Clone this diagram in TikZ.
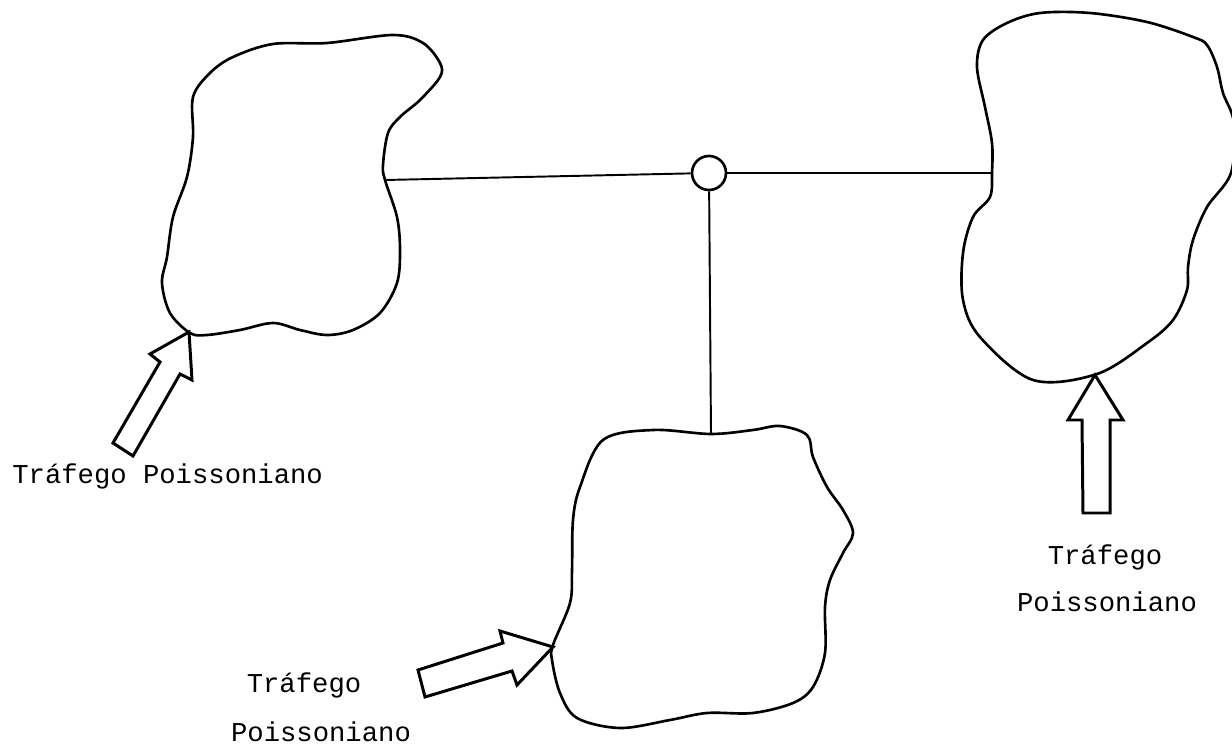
\documentclass[tikz,border=0pt]{standalone}
\usepackage{fontspec}
\setmonofont{Liberation Mono}
\begin{document}
\begin{tikzpicture}[x=0.02cm,y=-0.02cm,
  blob/.style={line width=1.5pt,line join=round},
  wire/.style={line width=1.1pt},
  fatarrow/.style={line width=1.7pt,line join=miter,fill=white},
  lbl/.style={font=\ttfamily\fontsize{15.5}{18}\selectfont,anchor=base,inner sep=0pt}]
\useasboundingbox (0,0) rectangle (1232,746);
% junction coordinates
\coordinate (j1) at (385,180);
\coordinate (j2) at (992,173);
\coordinate (j3) at (711,434);
% blobs
\draw[blob] plot[smooth cycle,tension=0.55] coordinates {(273,44) (327,43) (393,35) (423,43) (440,63) (440,77) (420,100) (400,117) (388,133) (383,165) (385,180) (397,217) (400,250) (397,283) (380,313) (353,330) (327,335) (300,330) (273,323) (240,330) (207,335) (190,333) (170,313) (162,283) (167,257) (173,217) (187,177) (193,137) (193,97) (210,73) (233,57)};
\draw[blob] plot[smooth cycle,tension=0.55] coordinates {(1040,13) (1090,13) (1147,22) (1193,37) (1207,45) (1217,67) (1223,93) (1234,123) (1231,173) (1207,207) (1193,240) (1188,267) (1187,290) (1173,320) (1147,343) (1097,374) (1033,380) (980,337) (963,300) (963,253) (973,217) (990,197) (992,173) (992,143) (985,107) (977,67) (983,40) (1007,23)};
\draw[blob] plot[smooth cycle,tension=0.55] coordinates {(603,440) (653,430) (711,434) (753,430) (780,426) (807,435) (813,457) (827,487) (843,510) (853,533) (843,553) (830,580) (825,607) (825,653) (813,687) (793,703) (753,713) (707,713) (670,720) (620,728) (577,718) (560,693) (552,660) (553,645) (570,603) (572,570) (573,520) (580,487)};
% hub and wires
\node[draw,circle,line width=1.5pt,minimum size=0.68cm,inner sep=0pt,fill=white] (hub) at (709,173) {};
\draw[wire] (j1) -- (hub);
\draw[wire] (hub) -- (j2);
\draw[wire] (hub) -- (j3);
% fat arrows
\draw[fatarrow] (189,332) -- (150,354) -- (160,362) -- (113,443) -- (133,456) -- (180,374) -- (192,380) -- cycle;
\draw[fatarrow] (553,647) -- (500,631) -- (503,643) -- (418,670) -- (425,697) -- (512,671) -- (517,685) -- cycle;
\draw[fatarrow] (1095,375) -- (1123,420) -- (1110,420) -- (1110,513) -- (1083,513) -- (1082,420) -- (1068,420) -- cycle;
% labels
\node[lbl,anchor=base west] (t1) at (12,484) {Tráfego Poissoniano};
\node[lbl] (t2a) at (1105,565) {Tráfego};
\node[lbl] (t2b) at (1107,612) {Poissoniano};
\node[lbl] (t3a) at (304,693) {Tráfego};
\node[lbl] (t3b) at (321,742) {Poissoniano};
\end{tikzpicture}
\end{document}
